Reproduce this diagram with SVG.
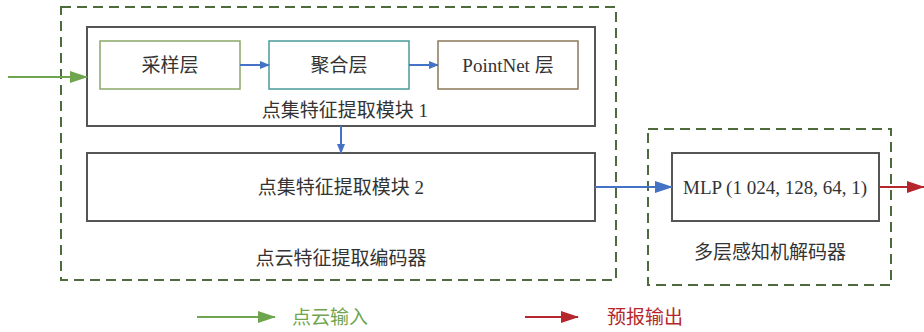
<svg xmlns="http://www.w3.org/2000/svg" width="924" height="332" viewBox="0 0 924 332">
<style>
text{font-family:"Liberation Serif","Noto Sans CJK SC",serif;font-size:19px;fill:#333;text-anchor:middle;dominant-baseline:central}
.dash{fill:none;stroke:#4d6b3c;stroke-width:2;stroke-dasharray:10,6}
.box{fill:#fff;stroke:#555;stroke-width:2}
.blue{stroke:#4472c4;stroke-width:2;fill:none}
.green{stroke:#6fa54e;stroke-width:2;fill:none}
.red{stroke:#b5272d;stroke-width:2;fill:none}
</style>
<defs>
<marker id="ab" markerWidth="10" markerHeight="8" refX="9" refY="4" orient="auto" markerUnits="userSpaceOnUse"><path d="M0,0 L10,4 L0,8 Z" fill="#4472c4"/></marker>
<marker id="abL" markerWidth="18" markerHeight="12" refX="17" refY="6" orient="auto" markerUnits="userSpaceOnUse"><path d="M0,0 L18,6 L0,12 Z" fill="#4472c4"/></marker>
<marker id="ag" markerWidth="18" markerHeight="12" refX="17" refY="6" orient="auto" markerUnits="userSpaceOnUse"><path d="M0,0 L18,6 L0,12 Z" fill="#6fa54e"/></marker>
<marker id="ar" markerWidth="18" markerHeight="12" refX="17" refY="6" orient="auto" markerUnits="userSpaceOnUse"><path d="M0,0 L18,6 L0,12 Z" fill="#b5272d"/></marker>
</defs>
<g id="encoder">
<rect class="dash" x="61" y="7" width="555" height="273"/>
<text x="341" y="258">点云特征提取编码器</text>
</g>
<g id="module1">
<rect class="box" x="87" y="27" width="508" height="99"/>
<text x="345" y="110">点集特征提取模块 1</text>
</g>
<g id="sampling">
<rect x="100" y="41" width="140" height="48" fill="#fff" stroke="#8aa86a" stroke-width="1.5"/>
<text x="170" y="65">采样层</text>
</g>
<g id="grouping">
<rect x="269" y="41" width="140" height="48" fill="#fff" stroke="#4a9a9a" stroke-width="1.5"/>
<text x="339" y="65">聚合层</text>
</g>
<g id="pointnet">
<rect x="438" y="41" width="140" height="48" fill="#fff" stroke="#8c7a5a" stroke-width="1.5"/>
<text x="508" y="65">PointNet 层</text>
</g>
<g id="module2">
<rect class="box" x="87" y="153" width="508" height="68"/>
<text x="341" y="187">点集特征提取模块 2</text>
</g>
<g id="decoder">
<rect class="dash" x="648" y="129" width="243" height="156"/>
<text x="770" y="252">多层感知机解码器</text>
</g>
<g id="mlp">
<rect class="box" x="672" y="153" width="207" height="68"/>
<text x="775" y="187">MLP (1 024, 128, 64, 1)</text>
</g>
<g id="connectors">
<line class="green" x1="8" y1="77" x2="87" y2="77" marker-end="url(#ag)"/>
<line class="blue" x1="240" y1="65" x2="269" y2="65" marker-end="url(#ab)"/>
<line class="blue" x1="409" y1="65" x2="438" y2="65" marker-end="url(#ab)"/>
<line class="blue" x1="341" y1="126" x2="341" y2="153" marker-end="url(#ab)"/>
<line class="blue" x1="595" y1="187" x2="672" y2="187" marker-end="url(#abL)"/>
<line class="red" x1="879" y1="187" x2="924" y2="187" marker-end="url(#ar)"/>
</g>
<g id="legend">
<line class="green" x1="197" y1="317" x2="275" y2="317" marker-end="url(#ag)"/>
<text x="330" y="317" style="fill:#6fa54e">点云输入</text>
<line class="red" x1="525" y1="317" x2="578" y2="317" marker-end="url(#ar)"/>
<text x="645" y="317" style="fill:#b5272d">预报输出</text>
</g>
</svg>
